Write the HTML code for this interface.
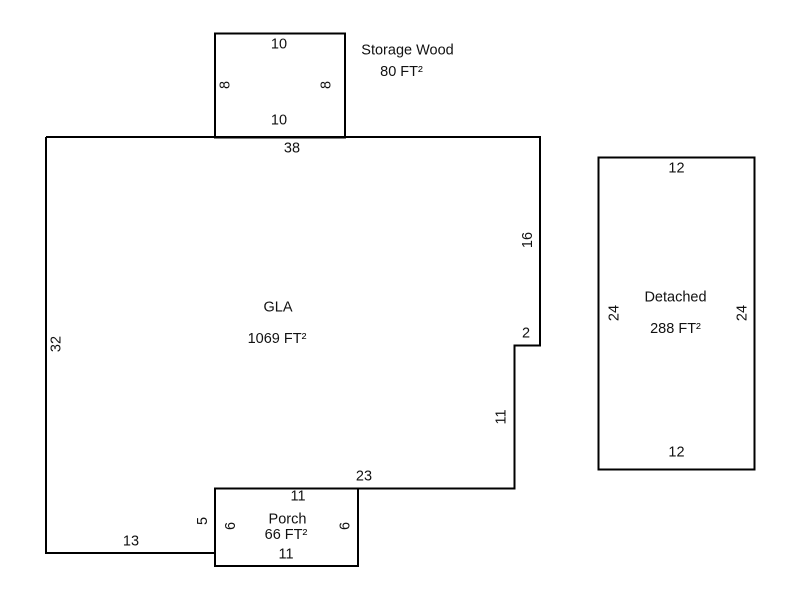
<!DOCTYPE html>
<html>
<head>
<meta charset="utf-8">
<style>
html,body{margin:0;padding:0;background:#fff;width:800px;height:600px;overflow:hidden}
svg{display:block}
text{font-family:"Liberation Sans",Arial,sans-serif;font-size:14.5px;fill:#111;text-anchor:middle}
.l{fill:none;stroke:#000;stroke-width:2;shape-rendering:crispEdges}
</style>
</head>
<body>
<svg width="800" height="600" viewBox="0 0 800 600" xmlns="http://www.w3.org/2000/svg">
<path class="l" d="M46 137H540V345.500H514.500V488.500H215M215 553H46V137"/>
<rect class="l" x="215" y="33.500" width="130" height="104"/>
<rect class="l" x="215" y="488.500" width="143" height="77.500"/>
<rect class="l" x="598.500" y="157.500" width="156" height="312"/>

<text x="279" y="48.500">10</text>
<text x="279" y="124.500">10</text>
<text x="407.500" y="54.500">Storage Wood</text>
<text x="401.500" y="76">80 FT²</text>
<text transform="translate(229.500,85) rotate(-90)">8</text>
<text transform="translate(330.500,85) rotate(-90)">8</text>
<text x="292" y="152.500">38</text>

<text x="278" y="311.500">GLA</text>
<text x="277" y="343">1069 FT²</text>
<text transform="translate(60.500,344) rotate(-90)">32</text>
<text transform="translate(532,240) rotate(-90)">16</text>
<text x="526" y="337.500">2</text>
<text transform="translate(505.500,417) rotate(-90)">11</text>
<text x="364" y="480.500">23</text>
<text x="131" y="545.500">13</text>
<text transform="translate(207,521) rotate(-90)">5</text>

<text x="298" y="500.500">11</text>
<text x="287.500" y="523.500">Porch</text>
<text x="286" y="539">66 FT²</text>
<text x="286" y="558.500">11</text>
<text transform="translate(235,526) rotate(-90)">6</text>
<text transform="translate(349.500,526) rotate(-90)">6</text>

<text x="676.500" y="172.500">12</text>
<text x="676.500" y="456.500">12</text>
<text x="675.500" y="301.500">Detached</text>
<text x="675.500" y="333">288 FT²</text>
<text transform="translate(618.500,313) rotate(-90)">24</text>
<text transform="translate(746.500,313) rotate(-90)">24</text>
</svg>
</body>
</html>
